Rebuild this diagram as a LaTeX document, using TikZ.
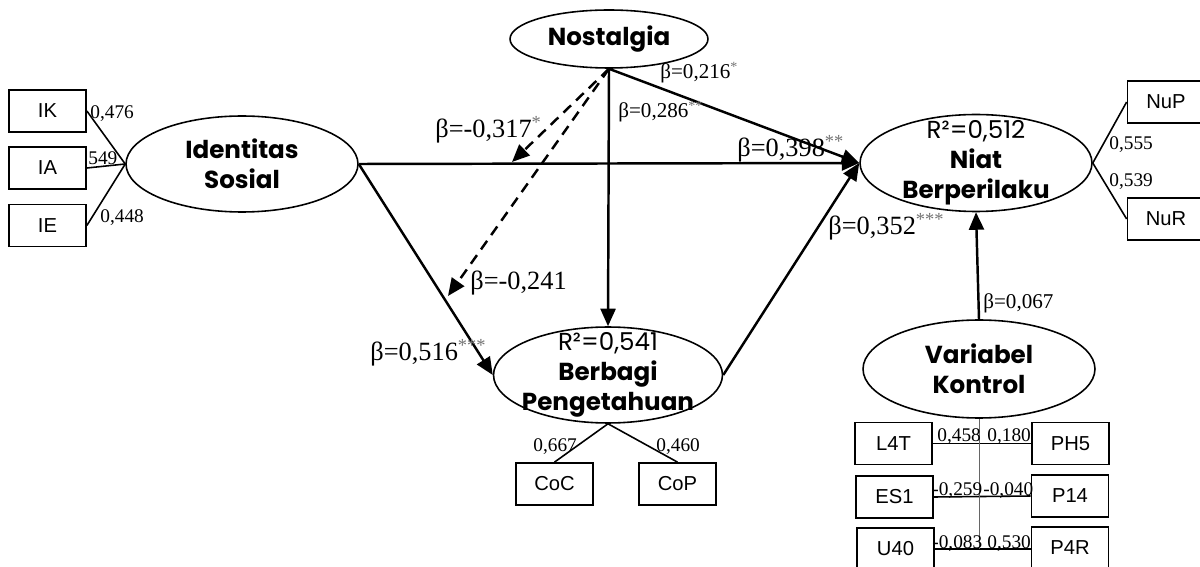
\documentclass[tikz,border=0pt]{standalone}
\usepackage{fontspec}
\setmainfont{Liberation Serif}
\setsansfont{Poppins}
\newfontfamily\boxfont{Liberation Sans}
\usepackage{tikz}
\usetikzlibrary{shapes.geometric,arrows.meta,positioning,calc}

\newcommand{\sig}[1]{\textsuperscript{\textcolor{black!55}{#1}}}

\begin{document}
\begin{tikzpicture}[x=0.02cm,y=-0.02cm,
    lat/.style={draw,ellipse,line width=0.9pt,inner sep=0pt,minimum width=4.64cm,minimum height=1.92cm},
    lattxt/.style={font=\sffamily\bfseries\fontsize{14}{17}\selectfont,align=center,inner sep=0pt},
    ind/.style={draw,line width=1pt,inner sep=0pt,minimum width=1.54cm,minimum height=0.84cm,font=\boxfont\fontsize{11.5}{13}\selectfont},
    arr/.style={-{Triangle[length=3.5mm,width=3mm]},line width=1.4pt},
    dsh/.style={dash pattern=on 6pt off 4pt},
    ld/.style={line width=0.9pt},
    coef/.style={anchor=base west,inner sep=0pt,font=\fontsize{15}{17}\selectfont},
    coefs/.style={anchor=base west,inner sep=0pt,font=\fontsize{12}{14}\selectfont},
    load/.style={anchor=base west,inner sep=0pt,font=\fontsize{11}{12}\selectfont}]
     \useasboundingbox (0,0) rectangle (1200,567);

     % latent variables
     \node[lat] (is) at (242,164) {};
     \node[lattxt] (is_t) at (is.center) {Identitas\\Sosial};
     \node[lat,minimum width=3.96cm,minimum height=1.16cm,lattxt] (nos) at (609,39) {Nostalgia};
     \node[lat,minimum height=1.94cm] (niat) at (976,163) {};
     \node[lattxt] (niat_t) at (niat.center) {{\mdseries R²=0,512}\\Niat\\Berperilaku};
     \node[lat,minimum width=4.58cm] (bp) at (608,375) {};
     \node[lattxt] (bp_t) at (bp.center) {{\mdseries R²=0,541}\\Berbagi\\Pengetahuan};
     \node[lat,minimum height=1.96cm] (vk) at (979,369) {};
     \node[lattxt] (vk_t) at (vk.center) {Variabel\\Kontrol};

     % indicators
     \node[ind] (ik) at (47.5,111) {IK};
     \node[ind] (ia) at (47.5,168) {IA};
     \node[ind] (ie) at (47.5,225.5) {IE};
     \node[ind] (coc) at (554.5,484) {CoC};
     \node[ind] (cop) at (677.5,484) {CoP};
     \node[ind] (nup) at (1166,102) {NuP};
     \node[ind] (nur) at (1166,219) {NuR};

     \node[ind] (l4t) at (893.5,443.5) {L4T};
     \node[ind] (ph5) at (1070.5,443.5) {PH5};
     \node[ind] (es1) at (894.5,497) {ES1};
     \node[ind] (p14) at (1070,496) {P14};
     \node[ind] (u40) at (895.5,549) {U40};
     \node[ind] (p4r) at (1070,548) {P4R};

     \draw[ld] (ik.east) -- (is.west);
     \draw[ld] (ia.east) -- (is.west);
     \draw[ld] (ie.east) -- (is.west);
     \draw[ld] (bp.south) -- (coc.north);
     \draw[ld] (bp.south) -- (cop.north);
     \draw[ld] (niat.east) -- (nup.west);
     \draw[ld] (niat.east) -- (nur.west);

     \draw[ld] (l4t.east) -- (ph5.west);
     \draw[ld] (es1.east) -- (p14.west);
     \draw[ld] (u40.east) -- (u40.east -| p4r.west);
     \draw[black!60,line width=0.5pt] (vk.south) -- (vk.south |- u40.east);

     \node[load] (l476) at (90,119) {0,476};
     \node[load] (l549) at (88,165) {549};
     \node[load] (l448) at (100,223) {0,448};
     \node[load] (l667) at (533,451) {0,667};
     \node[load] (l460) at (656,451) {0,460};
     \node[load] (l555) at (1109,150) {0,555};
     \node[load] (l539) at (1109,187) {0,539};
     \node[load] (l458) at (937,441) {0,458};
     \node[load] (l180) at (987,441) {0,180};
     \node[load] (l259) at (932,495) {-0,259};
     \node[load] (l040) at (983,495) {-0,040};
     \node[load] (l083) at (932,548) {-0,083};
     \node[load] (l530) at (987,548) {0,530};

     % structural paths
     \draw[arr] (is.east) -- (niat.west);
     \draw[arr] (is.east) -- (bp.west);
     \draw[arr] (nos.south) -- (bp.north);
     \draw[arr] (nos.south) -- (niat.west);
     \draw[arr] (bp.east) -- (niat.west);
     \draw[arr] (vk.north) -- (niat.south);

     % moderation
     \coordinate (m1) at (512,162);
     \coordinate (m2) at (448,296);
     \draw[arr,dsh] (nos.south) -- (m1);
     \draw[arr,dsh] (nos.south) -- (m2);

     \node[coef] (b317) at (435,138) {β=-0,317\sig{*}};
     \node[coefs] (b216) at (660,79) {β=0,216\sig{*}};
     \node[coefs] (b286) at (618,118) {β=0,286\sig{**}};
     \node[coef] (b398) at (737,157) {β=0,398\sig{**}};
     \node[coef] (b241) at (470,290) {β=-0,241};
     \node[coef] (b516) at (370,361) {β=0,516\sig{***}};
     \node[coef] (b352) at (828,235) {β=0,352\sig{***}};
     \node[coefs] (b067) at (983,309) {β=0,067};

     \end{tikzpicture}
\end{document}
